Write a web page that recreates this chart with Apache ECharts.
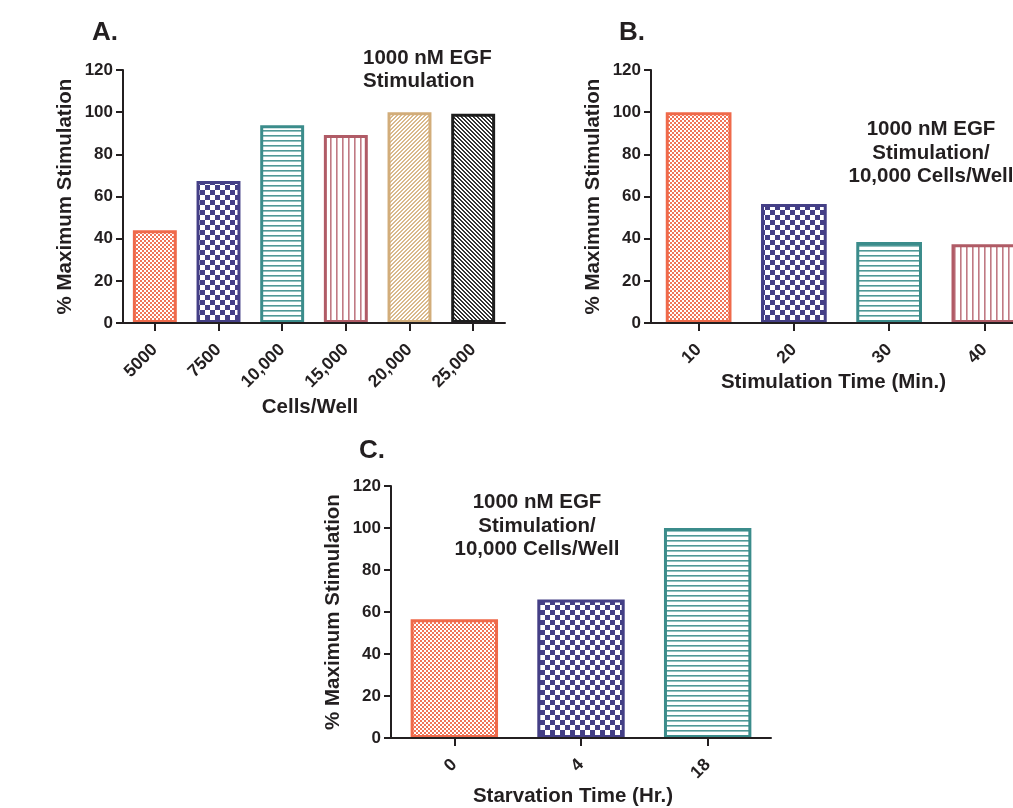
<!DOCTYPE html>
<html><head><meta charset="utf-8">
<script src="https://cdn.jsdelivr.net/npm/echarts@6/dist/echarts.min.js"></script>
<style>html,body{margin:0;padding:0;background:#fff;overflow:hidden}#c{width:1060px;height:808px}</style>
</head><body><div id="c"></div>
<script>
// ---- data ----
const catsA = ['5000', '7500', '10,000', '15,000', '20,000', '25,000'];
const valsA = [44, 67.4, 93.8, 89.2, 100, 99.3];
const catsB = ['10', '20', '30', '40'];
const valsB = [100, 56.5, 38.4, 37.3];
const catsC = ['0', '4', '18'];
const valsC = [56.5, 66, 100];
const yMin = 0, yMax = 120, yStep = 20;
const yName = '% Maximum Stimulation';
const xNameA = 'Cells/Well';
const xNameB = 'Stimulation Time (Min.)';
const xNameC = 'Starvation Time (Hr.)';

// ---- styles ----
const FONT = '"Liberation Sans", Arial, Helvetica, sans-serif';
const INK = '#231f20';
function pat(w, h, fn) {
  const c = document.createElement('canvas');
  c.width = w; c.height = h;
  const ctx = c.getContext('2d');
  ctx.fillStyle = '#fff'; ctx.fillRect(0, 0, w, h);
  fn(ctx, w, h);
  return { image: c, repeat: 'repeat' };
}
const styles = [
  { border: '#ef6a4b', fill: pat(4, 4, (g) => { g.fillStyle = '#f07458'; g.fillRect(0, 0, 2, 2); g.fillRect(2, 2, 2, 2); }) },
  { border: '#443f86', fill: pat(10, 10, (g) => { g.fillStyle = '#443f86'; g.fillRect(0, 0, 5, 5); g.fillRect(5, 5, 5, 5); }) },
  { border: '#3b8c8b', fill: pat(5, 5, (g) => { g.fillStyle = '#4f9897'; g.fillRect(0, 0, 5, 1.6); }) },
  { border: '#b05b66', fill: pat(6, 6, (g) => { g.fillStyle = '#c07a84'; g.fillRect(0, 0, 1.6, 6); }) },
  { border: '#d2ad7a', fill: pat(4, 4, (g) => { g.fillStyle = '#d9b98c'; for (let x = 0; x < 4; x++) for (let y = 0; y < 4; y++) if ((x + y) % 4 === 3 || (x + y) % 4 === 0) g.fillRect(x, y, 1, 1); }) },
  { border: '#1e1e1e', fill: pat(4, 4, (g) => { g.fillStyle = '#333'; for (let x = 0; x < 4; x++) for (let y = 0; y < 4; y++) if ((x - y + 8) % 4 === 0 || (x - y + 8) % 4 === 1) g.fillRect(x, y, 1, 1); }) }
];
function items(vals) {
  return vals.map((v, i) => ({ value: v, itemStyle: { color: styles[i].fill, borderColor: styles[i].border, borderWidth: 3 } }));
}
const axisLineStyle = { color: INK, width: 2 };
function yAxis(gi) {
  return {
    type: 'value', gridIndex: gi, min: yMin, max: yMax, interval: yStep,
    name: yName, nameLocation: 'middle', nameGap: 47,
    nameTextStyle: { fontSize: 20.5, fontWeight: 'bold', color: INK, fontFamily: FONT },
    axisLine: { show: true, lineStyle: axisLineStyle },
    axisTick: { show: true, length: 7, lineStyle: axisLineStyle },
    axisLabel: { fontSize: 17, fontWeight: 'bold', color: INK, fontFamily: FONT, margin: 10 },
    splitLine: { show: false }, z: 5
  };
}
function xAxis(gi, cats, name, gap, pad) {
  return {
    type: 'category', gridIndex: gi, data: cats,
    name: name, nameLocation: 'middle', nameGap: gap,
    nameTextStyle: { fontSize: 20.5, fontWeight: 'bold', color: INK, fontFamily: FONT, padding: [0, pad, 0, 0], verticalAlign: 'top' },
    axisLine: { show: true, lineStyle: axisLineStyle },
    axisTick: { show: true, alignWithLabel: true, length: 8, lineStyle: axisLineStyle },
    axisLabel: { rotate: 45, interval: 0, fontSize: 17.5, fontWeight: 'bold', color: INK, fontFamily: FONT, margin: 24 },
    z: 5
  };
}
function series(gi, vals) {
  return { type: 'bar', xAxisIndex: gi, yAxisIndex: gi, data: items(vals), barWidth: '69%', animation: false };
}
function txt(x, y, s, size, align, lh) {
  return { type: 'text', x: x, y: y, silent: true, style: {
    text: s, font: 'bold ' + size + 'px ' + FONT, fill: INK,
    textAlign: align, align: align, textVerticalAlign: 'middle', verticalAlign: 'middle', lineHeight: lh || size } };
}
const chart = echarts.init(document.getElementById('c'), null, { renderer: 'canvas' });
chart.setOption({
  backgroundColor: '#fff',
  animation: false,
  grid: [
    { left: 123, top: 70, width: 382, height: 253 },
    { left: 651, top: 70, width: 381, height: 253 },
    { left: 391, top: 486, width: 380, height: 255 }
  ],
  xAxis: [xAxis(0, catsA, xNameA, 74, 8), xAxis(1, catsB, xNameB, 49, 16), xAxis(2, catsC, xNameC, 48, 16)],
  yAxis: [yAxis(0), yAxis(1), yAxis(2)],
  series: [series(0, valsA), series(1, valsB), series(2, valsC)],
  graphic: [
    txt(92, 33, 'A.', 26, 'left'),
    txt(619, 33, 'B.', 26, 'left'),
    txt(359, 451, 'C.', 26, 'left'),
    txt(363, 70, '1000 nM EGF\nStimulation', 20.5, 'left', 23),
    txt(931, 153, '1000 nM EGF\nStimulation/\n10,000 Cells/Well', 20.5, 'center', 23.5),
    txt(537, 526, '1000 nM EGF\nStimulation/\n10,000 Cells/Well', 20.5, 'center', 23.5)
  ]
});
</script></body></html>
